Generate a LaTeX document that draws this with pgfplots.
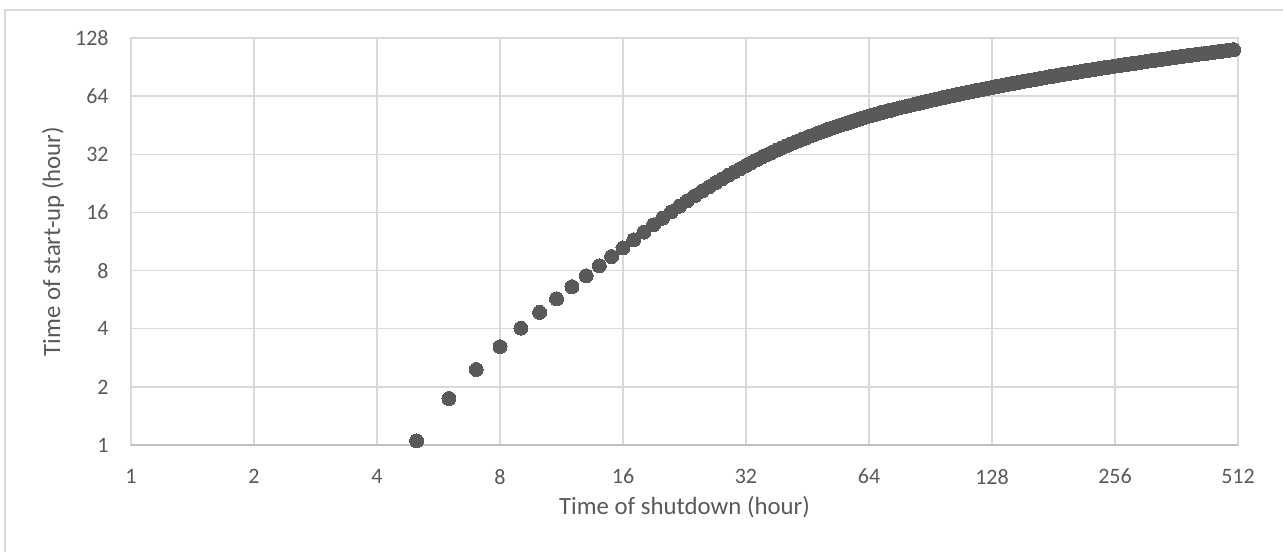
\documentclass[border=0pt]{standalone}
\usepackage{fontspec}
\setmainfont{Carlito}
\usepackage{pgfplots}
\pgfplotsset{compat=1.18}
\usepackage{pgfplotstable}
\definecolor{gridgray}{HTML}{D9D9D9}
\definecolor{axisgray}{HTML}{BFBFBF}
\definecolor{txtgray}{HTML}{595959}
\definecolor{markgray}{HTML}{595959}
\pgfplotstableread{
x y
5 1.05
6 1.74
7 2.46
8 3.23
9 4.03
10 4.86
11 5.71
12 6.60
13 7.52
14 8.47
15 9.46
16 10.48
17 11.55
18 12.65
19 13.80
20 14.95
21 16.10
22 17.25
23 18.40
24 19.55
25 20.65
26 21.75
27 22.85
28 23.90
29 24.95
30 26.00
31 27.00
32 28.00
33 29.00
34 29.97
35 30.91
36 31.82
37 32.71
38 33.58
39 34.42
40 35.24
41 36.05
42 36.83
43 37.59
44 38.34
45 39.07
46 39.78
47 40.48
48 41.16
49 41.83
50 42.49
51 43.13
52 43.76
53 44.38
54 44.99
55 45.58
56 46.17
57 46.74
58 47.30
59 47.86
60 48.41
61 48.94
62 49.47
63 49.99
64 50.50
65 50.96
66 51.41
67 51.85
68 52.29
69 52.72
70 53.15
71 53.57
72 53.98
74 54.79
76 55.58
78 56.35
80 57.10
82 57.83
84 58.54
86 59.24
88 59.92
90 60.58
92 61.23
94 61.87
96 62.49
98 63.10
100 63.70
102 64.29
104 64.86
106 65.42
108 65.98
110 66.52
112 67.05
114 67.57
116 68.09
118 68.59
120 69.09
122 69.58
124 70.06
126 70.53
128 71.00
130 71.46
132 71.91
134 72.35
136 72.79
138 73.22
140 73.65
142 74.07
144 74.48
148 75.29
152 76.08
156 76.85
160 77.60
164 78.33
168 79.04
172 79.74
176 80.42
180 81.08
184 81.73
188 82.37
192 82.99
196 83.60
200 84.20
204 84.79
208 85.36
212 85.92
216 86.48
220 87.02
224 87.55
228 88.07
232 88.59
236 89.09
240 89.59
244 90.08
248 90.56
252 91.03
256 91.50
260 91.96
264 92.41
268 92.85
272 93.29
276 93.72
280 94.15
284 94.57
288 94.98
296 95.79
304 96.58
312 97.35
320 98.10
328 98.83
336 99.54
344 100.24
352 100.92
360 101.58
368 102.23
376 102.87
384 103.49
392 104.10
400 104.70
408 105.29
416 105.86
424 106.42
432 106.98
440 107.52
448 108.05
456 108.57
464 109.09
472 109.59
480 110.09
488 110.58
496 111.06
500 111.29
}\datatable
\begin{document}
\begin{tikzpicture}
\useasboundingbox (0,0) rectangle (641.5pt,276pt);
\draw[gridgray, line width=0.75pt] (2.5pt,0pt) -- (2.5pt,271pt) -- (641.5pt,271pt);
\begin{axis}[
  at={(65.5pt,53.5pt)}, anchor=south west,
  scale only axis, width=553.5pt, height=203.5pt,
  xmode=log, ymode=log, log basis x=2, log basis y=2,
  xmin=1, xmax=512, ymin=1, ymax=128,
  xtick={1,2,4,8,16,32,64,128,256,512},
  xticklabels={1,2,4,8,16,32,64,128,256,512},
  ytick={1,2,4,8,16,32,64,128},
  yticklabels={1,2,4,8,16,32,64,128},
  minor xtick={}, minor ytick={},
  major tick length=0pt,
  grid=major,
  major grid style={gridgray, line width=0.75pt},
  axis line style={gridgray, line width=0.75pt},
  xticklabel style={anchor=center, yshift=-15.8pt, font=\fontsize{11}{13}\selectfont, text=txtgray, inner sep=0pt},
  yticklabel style={anchor=east, xshift=-11pt, font=\fontsize{11}{13}\selectfont, text=txtgray, inner sep=0pt},
  xlabel={Time of shutdown (hour)},
  ylabel={Time of start-up (hour)},
  xlabel style={at={(axis description cs:0.5,0)}, anchor=center, yshift=-31pt, font=\fontsize{12.4}{15}\selectfont, text=txtgray, inner sep=0pt},
  ylabel style={at={(axis description cs:0,0.5)}, anchor=center, yshift=39pt, font=\fontsize{12.4}{15}\selectfont, text=txtgray, inner sep=0pt},
  clip=false,
]
\draw[axisgray, line width=0.75pt] (rel axis cs:0,0) -- (rel axis cs:1,0);
\addplot[markgray, only marks, mark=*, mark size=3.5pt, mark options={draw=markgray, fill=markgray, line width=0pt}] table[x=x, y=y] {\datatable};
\end{axis}
\end{tikzpicture}
\end{document}
